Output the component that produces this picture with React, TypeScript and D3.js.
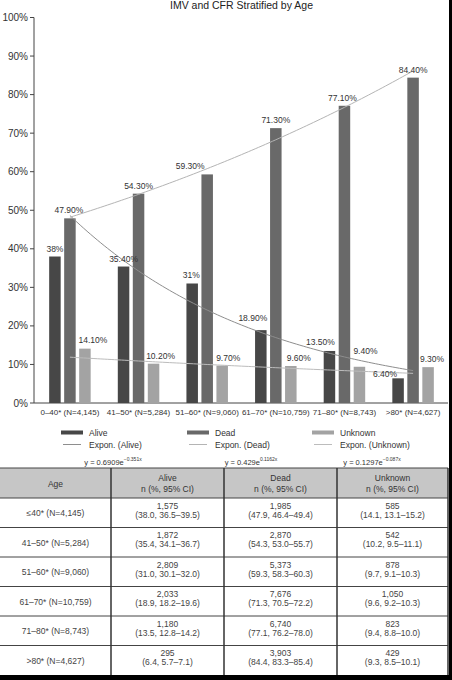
import React from "react";
import * as d3 from "d3";

// ---------- data ----------
const categories = [
  "0–40* (N=4,145)",
  "41–50* (N=5,284)",
  "51–60* (N=9,060)",
  "61–70* (N=10,759)",
  "71–80* (N=8,743)",
  ">80* (N=4,627)",
];
const alive = [0.38, 0.354, 0.31, 0.189, 0.135, 0.064];
const dead = [0.479, 0.543, 0.593, 0.713, 0.771, 0.844];
const unknown = [0.141, 0.102, 0.097, 0.096, 0.094, 0.093];
const aliveLabels = ["38%", "35.40%", "31%", "18.90%", "13.50%", "6.40%"];
const deadLabels = ["47.90%", "54.30%", "59.30%", "71.30%", "77.10%", "84.40%"];
const unknownLabels = ["14.10%", "10.20%", "9.70%", "9.60%", "9.40%", "9.30%"];
// exponential trend coefficients: y = a * e^(b x)
const trendA = [0.6909, 0.429, 0.1297];
const trendB = [-0.351, 0.1162, -0.087];
const trendEqA = ["0.6909", "0.429", "0.1297"];
const trendEqB = ["−0.351x", "0.1162x", "−0.087x"];
const yTicks = [0, 0.1, 0.2, 0.3, 0.4, 0.5, 0.6, 0.7, 0.8, 0.9, 1.0];
const seriesNames = ["Alive", "Dead", "Unknown"];

const tableHeaders = ["Age", "Alive", "Dead", "Unknown"];
const tableAge = [
  "≤40* (N=4,145)",
  "41–50* (N=5,284)",
  "51–60* (N=9,060)",
  "61–70* (N=10,759)",
  "71–80* (N=8,743)",
  ">80* (N=4,627)",
];
const tableAliveN = ["1,575", "1,872", "2,809", "2,033", "1,180", "295"];
const tableAliveCI = ["(38.0, 36.5–39.5)", "(35.4, 34.1–36.7)", "(31.0, 30.1–32.0)", "(18.9, 18.2–19.6)", "(13.5, 12.8–14.2)", "(6.4, 5.7–7.1)"];
const tableDeadN = ["1,985", "2,870", "5,373", "7,676", "6,740", "3,903"];
const tableDeadCI = ["(47.9, 46.4–49.4)", "(54.3, 53.0–55.7)", "(59.3, 58.3–60.3)", "(71.3, 70.5–72.2)", "(77.1, 76.2–78.0)", "(84.4, 83.3–85.4)"];
const tableUnkN = ["585", "542", "878", "1,050", "823", "429"];
const tableUnkCI = ["(14.1, 13.1–15.2)", "(10.2, 9.5–11.1)", "(9.7, 9.1–10.3)", "(9.6, 9.2–10.3)", "(9.4, 8.8–10.0)", "(9.3, 8.5–10.1)"];

// ---------- layout / style ----------
const W = 452;
const H = 680;
const FONT = "'Liberation Sans', Arial, sans-serif";
const COLORS = ["#474747", "#696969", "#a3a3a3"];
const TREND_COLORS = ["#8e8e8e", "#b4b4b4", "#bcbcbc"];
const LABEL_NUDGE = [
  [[0, 0], [0, 0], [-1, 0], [-8, -4], [-9, -1], [-13, 4]],
  [[-1, 0], [0, 0], [-17, 0], [0, 0], [-2, 0], [0, 0]],
  [[8, -1], [7, 0], [6, 0], [8, 0], [6, -8], [4, 0]],
];

export default function App() {
  const x = d3.scaleBand<string>().domain(categories).range([35.6, 447.4]).padding(0);
  const y = d3.scaleLinear().domain([0, 1]).range([403, 17.5]);
  const barW = 11.5;
  const barStep = 15;
  const series = [alive, dead, unknown];
  const labels = [aliveLabels, deadLabels, unknownLabels];
  const center = (i: number) => (x(categories[i]) as number) + x.bandwidth() / 2;
  const xt = d3.scaleLinear().domain([1, 6]).range([center(0), center(5)]);
  const tSamples = d3.range(1, 6.001, 0.05);

  const line = d3
    .line<number>()
    .x((t) => xt(t))
    .curve(d3.curveLinear);

  // table
  const colX = [0, 111, 224, 337, 448];
  const headTop = 468;
  const headBot = 498;
  const rowH = (675 - headBot) / 6;
  const tableCols = [
    [tableAliveN, tableAliveCI],
    [tableDeadN, tableDeadCI],
    [tableUnkN, tableUnkCI],
  ];

  const legendX = [61, 187, 312];
  const eqCX = [113, 251, 372];

  return (
    <svg
      width={W}
      height={H}
      style={{ position: "absolute", left: 0, top: 0, background: "#fff" }}
      fontFamily={FONT}
    >
      <rect x={0} y={0} width={W} height={H} fill="#fff" />
      <text x={241.5} y={8.5} fontSize={10.5} textAnchor="middle" fill="#222">
        IMV and CFR Stratified by Age
      </text>

      {/* y axis */}
      <line x1={34} x2={34} y1={y(1)} y2={y(0)} stroke="#444" strokeWidth={1} />
      {yTicks.map((t) => (
        <g key={t}>
          <line x1={30} x2={34} y1={y(t)} y2={y(t)} stroke="#444" />
          <text x={28} y={y(t) + 3.5} fontSize={10} textAnchor="end" fill="#333">
            {d3.format(".0%")(t)}
          </text>
        </g>
      ))}
      <line x1={34} x2={448} y1={y(0)} y2={y(0)} stroke="#444" strokeWidth={1} />

      {/* bars */}
      {series.map((vals, s) =>
        vals.map((v, i) => (
          <rect
            key={`b${s}-${i}`}
            x={center(i) + (s - 1) * barStep - barW / 2}
            y={y(v)}
            width={barW}
            height={y(0) - y(v)}
            fill={COLORS[s]}
          />
        ))
      )}

      {/* trend lines */}
      {trendA.map((a, s) => (
        <path
          key={`t${s}`}
          d={line.y((t) => y(a * Math.exp(trendB[s] * t)))(tSamples) || ""}
          fill="none"
          stroke={TREND_COLORS[s]}
          strokeWidth={1}
        />
      ))}

      {/* bar labels */}
      {series.map((vals, s) =>
        vals.map((v, i) => (
          <text
            key={`l${s}-${i}`}
            x={center(i) + (s - 1) * barStep + LABEL_NUDGE[s][i][0]}
            y={y(v) - 5 + LABEL_NUDGE[s][i][1]}
            fontSize={8.5}
            textAnchor="middle"
            fill="#333"
          >
            {labels[s][i]}
          </text>
        ))
      )}

      {/* category labels */}
      {categories.map((c, i) => (
        <text key={c} x={center(i)} y={415} fontSize={8} textAnchor="middle" fill="#333">
          {c}
        </text>
      ))}

      {/* legend */}
      {seriesNames.map((n, s) => (
        <g key={n}>
          <rect x={legendX[s]} y={430.5} width={22} height={4} fill={COLORS[s]} />
          <text x={legendX[s] + 28} y={435.5} fontSize={8.5} fill="#333">
            {n}
          </text>
          <line x1={legendX[s] + 2} x2={legendX[s] + 20} y1={444.5} y2={444.5} stroke={TREND_COLORS[s]} strokeWidth={1} />
          <text x={legendX[s] + 28} y={447.5} fontSize={8.5} fill="#333">
            {`Expon. (${n})`}
          </text>
          <text x={eqCX[s]} y={464.5} fontSize={7.5} textAnchor="middle" fill="#333">
            {`y = ${trendEqA[s]}e`}
            <tspan fontSize={5} dy={-3.5}>
              {trendEqB[s]}
            </tspan>
          </text>
        </g>
      ))}

      {/* table */}
      <rect x={0} y={headTop} width={448} height={headBot - headTop} fill="#c6c6c6" />
      <text x={(colX[0] + colX[1]) / 2} y={487} fontSize={8.5} textAnchor="middle" fill="#333">
        {tableHeaders[0]}
      </text>
      {tableHeaders.slice(1).map((h, j) => (
        <g key={h}>
          <text x={(colX[j + 1] + colX[j + 2]) / 2} y={481} fontSize={8.5} textAnchor="middle" fill="#333">
            {h}
          </text>
          <text x={(colX[j + 1] + colX[j + 2]) / 2} y={491.5} fontSize={8.5} textAnchor="middle" fill="#333">
            n (%, 95% CI)
          </text>
        </g>
      ))}
      {tableAge.map((a, i) => {
        const top = headBot + i * rowH;
        return (
          <g key={a}>
            <text x={(colX[0] + colX[1]) / 2} y={top + 18} fontSize={8.5} textAnchor="middle" fill="#444">
              {a}
            </text>
            {tableCols.map((col, j) => (
              <g key={j}>
                <text x={(colX[j + 1] + colX[j + 2]) / 2} y={top + 10.5} fontSize={8.5} textAnchor="middle" fill="#444">
                  {col[0][i]}
                </text>
                <text x={(colX[j + 1] + colX[j + 2]) / 2} y={top + 19.5} fontSize={8.5} textAnchor="middle" fill="#444">
                  {col[1][i]}
                </text>
              </g>
            ))}
          </g>
        );
      })}
      {d3.range(0, 7).map((k) => (
        <line
          key={`h${k}`}
          x1={0}
          x2={448}
          y1={k === 0 ? headTop : headBot + (k - 1) * rowH}
          y2={k === 0 ? headTop : headBot + (k - 1) * rowH}
          stroke="#444"
          strokeWidth={1}
        />
      ))}
      {colX.slice(1).map((cx, k) => (
        <line key={`v${k}`} x1={cx} x2={cx} y1={headTop} y2={675} stroke="#333" strokeWidth={1.5} />
      ))}

      {/* frame */}
      <rect x={449} y={0} width={3} height={H} fill="#000" />
      <rect x={0} y={675} width={W} height={5} fill="#000" />
    </svg>
  );
}
